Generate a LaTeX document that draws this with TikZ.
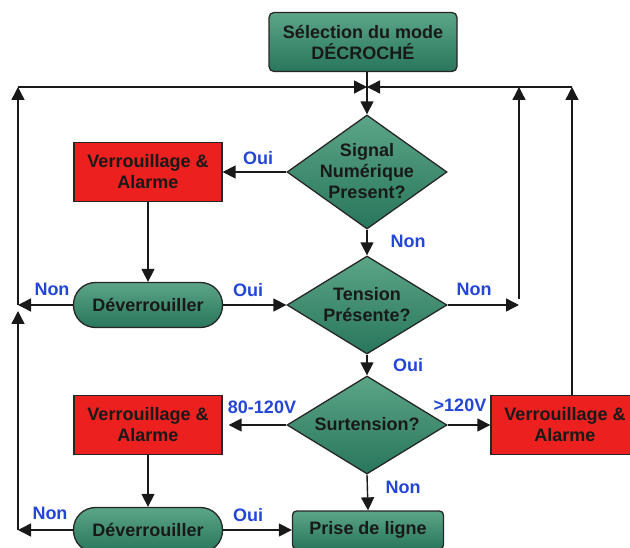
\documentclass[tikz,border=0pt]{standalone}
\usepackage{fontspec}
\setmainfont{Liberation Sans}
\usetikzlibrary{arrows.meta,shapes.geometric}
\definecolor{tealA}{RGB}{92,165,135}
\definecolor{tealB}{RGB}{40,118,92}
\definecolor{redbox}{RGB}{236,32,30}
\definecolor{lblblue}{RGB}{35,70,215}
\definecolor{txt}{RGB}{25,25,25}
\begin{document}
\begin{tikzpicture}[x=1pt,y=-1pt,
  base/.style={draw=black!85, line width=1.3pt, inner sep=0pt, font=\bfseries\fontsize{18}{21}\selectfont, text=txt, align=center},
  tealbox/.style={base, top color=tealA, bottom color=tealB},
  redfill/.style={base, fill=redbox, minimum width=148pt, minimum height=59pt},
  pill/.style={tealbox, rounded corners=22pt, minimum width=149pt, minimum height=45pt},
  dia/.style={tealbox, diamond, minimum width=160pt},
  ntext/.style={font=\bfseries\fontsize{18}{21}\selectfont, text=txt, align=center, inner sep=0pt},
  lbl/.style={font=\bfseries\fontsize{18}{21}\selectfont, text=lblblue, inner sep=0pt},
  arr/.style={draw=black!90, line width=1.4pt, -{Triangle[length=13pt,width=13pt]}}
]
\useasboundingbox (0,0) rectangle (630,548);
\clip (0,0) rectangle (630,548);

% nodes
\node[tealbox, rounded corners=5pt, minimum width=188pt, minimum height=59pt] (top) at (363,42) {Sélection du mode\\DÉCROCHÉ};
\node[dia, minimum height=114pt] (d1) at (367,172) {};
\node[ntext] (t1) at (367,171) {Signal\\Numérique\\Present?};
\node[dia, minimum height=98pt] (d2) at (367,305) {};
\node[ntext] (t2) at (367,305) {Tension\\Présente?};
\node[dia, minimum height=98pt] (d3) at (367,425) {};
\node[ntext] (t3) at (367,424) {Surtension?};
\node[redfill] (r1) at (148,172) {Verrouillage \&\\Alarme};
\node[redfill] (r2) at (148,425) {Verrouillage \&\\Alarme};
\node[redfill] (r3) at (565,425) {Verrouillage \&\\Alarme};
\node[pill] (p1) at (148,305) {Déverrouiller};
\node[pill] (p2) at (148,530) {Déverrouiller};
\node[tealbox, rounded corners=4pt, minimum width=151pt, minimum height=38pt] (pr) at (368,530) {Prise de ligne};

% junction coordinates
\coordinate (J) at (367,87);
\coordinate (LT) at (18,87);
\coordinate (RT) at (572,87);
\coordinate (L1) at (18,305);
\coordinate (L1b) at (18,311);
\coordinate (L2) at (18,530);
\coordinate (R1) at (519,305);
\coordinate (R1b) at (519,299);
\coordinate (RT2) at (519,87);

% connectors
\draw[arr] (d1.north |- top.south) -- (d1.north);
\draw[arr] (LT) -- (J);
\draw[arr] (RT) -- (J);
\draw[arr] (d1.west) -- (r1.east);
\draw[arr] (r1.south) -- (p1.north);
\draw[arr] (d1.south) -- (d2.north);
\draw[arr] (p1.east) -- (d2.west);
\draw[arr] (p1.west) -- (L1);
\draw[arr] (L1) -- (LT);
\draw[arr] (L2) -- (L1b);
\draw[arr] (d2.east) -- (R1);
\draw[arr] (R1b) -- (RT2);
\draw[arr] (RT |- r3.north) -- (RT);
\draw[arr] (d2.south) -- (d3.north);
\draw[arr, shorten >=6pt] (d3.west) -- (r2.east);
\draw[arr] (d3.east) -- (r3.west);
\draw[arr] (r2.south) -- (p2.north);
\draw[arr] (d3.south) -- (pr.north);
\draw[arr] (p2.east) -- (pr.west);
\draw[arr] (p2.west) -- (L2);

% labels
\node[lbl] (o1) at (258,158) {Oui};
\node[lbl] (n1) at (408,241) {Non};
\node[lbl] (n2) at (52,289) {Non};
\node[lbl] (o2) at (248,290) {Oui};
\node[lbl] (n3) at (474,289) {Non};
\node[lbl] (o3) at (408,365) {Oui};
\node[lbl] (v1) at (262,407) {80-120V};
\node[lbl] (v2) at (460,405) {>120V};
\node[lbl] (n4) at (403,487) {Non};
\node[lbl] (n5) at (50,513) {Non};
\node[lbl] (o4) at (248,515) {Oui};
\end{tikzpicture}
\end{document}
